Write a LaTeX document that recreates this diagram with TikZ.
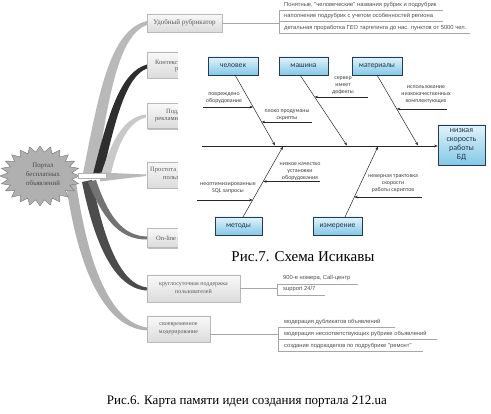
\documentclass[tikz,border=0pt]{standalone}
\usepackage{fontspec}
\setmainfont{Liberation Serif}
\newfontfamily\ishfont{Carlito}
\newfontfamily\itemfont{Liberation Sans}
\usetikzlibrary{calc,arrows.meta,shadows}
\definecolor{ishtop}{RGB}{225,243,251}
\definecolor{ishbot}{RGB}{130,200,230}
\definecolor{ishborder}{RGB}{35,60,85}
\definecolor{ishtext}{RGB}{35,55,80}
\begin{document}
\begin{tikzpicture}[x=1pt,y=-1pt,
  mmbox/.style={draw=gray!55, line width=0.4pt, top color=gray!5, bottom color=gray!28,
    drop shadow={shadow xshift=1pt,shadow yshift=-1.2pt,fill=black,opacity=0.25}, inner sep=0pt, align=center,
    font=\fontsize{6.5}{8}\selectfont, text=black!65},
  mmtext/.style={font=\fontsize{6.5}{8}\selectfont, text=black!65, inner sep=0pt, anchor=west},
  item/.style={font=\itemfont\fontsize{5.8}{6.5}\selectfont, text=black!70, anchor=west, inner sep=0pt},
  mmline/.style={draw=gray!70, line width=0.4pt},
  ishbox/.style={draw=ishborder, line width=0.6pt, top color=ishtop, bottom color=ishbot,
    font=\ishfont\fontsize{7.6}{8}\selectfont, text=ishtext, inner sep=0pt, align=center},
  cause/.style={font=\ishfont\fontsize{5.9}{7}\selectfont, text=black!75, align=center, inner sep=0pt},
  bone/.style={draw=black!85, line width=0.5pt, -{Stealth[length=3.5pt,width=2.6pt]}},
]
\useasboundingbox (0,0) rectangle (491,414);

% ---------- mind map branches ----------
\fill[gray!60] (76,182) .. controls (88,265) and (110,322) .. (147,327.5) -- (147,330.5) .. controls (104,328) and (78,268) .. (66,184) -- cycle;
\fill[black!70] (92,180) .. controls (104,240) and (120,284) .. (147,287.5) -- (147,290.5) .. controls (114,289) and (94,242) .. (82,182) -- cycle;
\fill[black!55] (96,180) .. controls (108,215) and (122,236) .. (147,236.5) -- (147,239.5) .. controls (118,240) and (102,216) .. (88,182) -- cycle;
\fill[gray!55] (82,178) .. controls (98,100) and (108,30) .. (147,21) -- (147,25) .. controls (118,35) and (108,100) .. (96,178) -- cycle;
\fill[black!82] (92,178) .. controls (108,115) and (120,72) .. (147,64.5) -- (147,68.5) .. controls (126,76) and (115,120) .. (102,178) -- cycle;
\fill[gray!42] (100,178) .. controls (110,145) and (122,117) .. (146,114.5) -- (146,117.5) .. controls (126,122) and (116,150) .. (110,178) -- cycle;
\fill[gray!55] (100,172.5) -- (146,174.5) -- (146,176) -- (100,181.5) -- cycle;

% ---------- central starburst ----------
\coordinate (sc) at (40,176);
\path[draw=black!55, fill=gray!62, line width=0.4pt] (80,176)
  \foreach \i in {1,...,47} { -- ({40+40*(1-0.2*mod(\i,2))*cos(\i*7.5)},{176+30*(1-0.2*mod(\i,2))*sin(\i*7.5)}) } -- cycle;
\node[font=\fontsize{6.8}{9}\selectfont, text=black!72, align=center, inner sep=0pt] (star) at (43,174) {Портал\\бесплатных\\объявлений};
\draw[gray!60, fill=white, line width=0.4pt] (78,173.5) rectangle (106,178);

% ---------- mind map boxes ----------
\node[mmbox, minimum width=75pt, minimum height=18pt, font=\fontsize{7}{8}\selectfont] (b1) at (184.5,23) {Удобный рубрикатор};
\node[mmbox, minimum width=90pt, minimum height=26pt] (b2) at (192,65) {};
\node[mmtext] (b2a) at (155,62) {Контекстная};
\node[mmtext] (b2b) at (175,69.5) {реклама};
\node[mmbox, minimum width=90pt, minimum height=25pt] (b3) at (192,116) {};
\node[mmtext] (b3a) at (166,112.5) {Поддержка};
\node[mmtext] (b3b) at (155,120) {рекламных};
\node[mmbox, minimum width=90pt, minimum height=26pt] (b4) at (192,175) {};
\node[mmtext] (b4a) at (150,170) {Простота для};
\node[mmtext] (b4b) at (163,178.5) {пользователя};
\node[mmbox, minimum width=90pt, minimum height=19pt] (b5) at (192,238) {};
\node[mmtext] (b5a) at (156,238.5) {On-line сервис};
\node[mmbox, minimum width=93pt, minimum height=27pt, font=\fontsize{6}{8}\selectfont] (b6) at (193.5,288.5) {круглосуточная поддержка\\пользователей};
\node[mmbox, minimum width=63pt, minimum height=26pt, font=\fontsize{6}{8}\selectfont] (b7) at (178.5,329) {своевременное\\модерирование};

% ---------- items of box 1 ----------
\coordinate (p1a) at (279,10.5);
\coordinate (p1b) at (279,21.5);
\coordinate (p1c) at (279,33);
\draw[mmline] (b1.east) -- (b1.east -| p1a);
\draw[mmline] (p1a) -- (p1c);
\draw[mmline] (p1a) -- ++(164,0);
\draw[mmline] (p1b) -- ++(164,0);
\draw[mmline] (p1c) -- ++(191,0);
\node[item] (i11) at (284,5) {Понятные, "человеческие" названия рубрик и подрубрик};
\node[item] (i12) at (284,16) {наполнение подрубрик с учетом особенностей региона};
\node[item] (i13) at (284,27.5) {детальная проработка ГЕО таргетинга до нас. пунктов от 5000 чел.};

% ---------- items of box 6 ----------
\coordinate (p6a) at (277,284);
\coordinate (p6b) at (277,295);
\draw[mmline] (b6.east) -- (b6.east -| p6a);
\draw[mmline] (p6a) -- (p6b);
\draw[mmline] (p6a) -- ++(81,0);
\draw[mmline] (p6b) -- ++(48,0);
\node[item] (i61) at (283,278) {900-е номера, Call-центр};
\node[item] (i62) at (283,289.5) {support 24/7};

% ---------- items of box 7 ----------
\coordinate (p7a) at (278,327.5);
\coordinate (p7b) at (278,339.5);
\coordinate (p7c) at (278,351);
\coordinate (p7l) at (b7.east |- 0,334);
\draw[mmline] (p7l) -- (p7l -| p7a);
\draw[mmline] (p7a) -- (p7c);
\draw[mmline] (p7a) -- ++(117,0);
\draw[mmline] (p7b) -- ++(159,0);
\draw[mmline] (p7c) -- ++(145,0);
\node[item] (i71) at (284,322) {модерация дубликатов объявлений};
\node[item] (i72) at (284,333.5) {модерация несоответствующих рубрике объявлений};
\node[item] (i73) at (284,346) {создание подразделов по подрубрике "ремонт"};

% ---------- Ishikawa diagram ----------
\fill[white] (178,40) rectangle (491,272);
\node[ishbox, minimum width=50pt, minimum height=18pt] (hum) at (233,66) {человек};
\node[ishbox, minimum width=49pt, minimum height=18pt] (mach) at (303.5,66) {машина};
\node[ishbox, minimum width=50pt, minimum height=18pt] (mat) at (377,66) {материалы};
\node[ishbox, minimum width=47pt, minimum height=18pt] (meth) at (238.5,226) {методы};
\node[ishbox, minimum width=49pt, minimum height=18pt] (meas) at (337.5,226) {измерение};
\node[ishbox, minimum width=47pt, minimum height=40pt, font=\ishfont\fontsize{8}{9}\selectfont] (eff) at (461.5,145) {низкая\\скорость\\работы\\БД};

\coordinate (sp0) at (202,146);
\draw[bone] (sp0) -- (sp0 -| eff.west);

\coordinate (hA) at (235,75);  \coordinate (hB) at (275,145.5);
\coordinate (mA) at (300,75);  \coordinate (mB) at (347,145.5);
\coordinate (tA) at (377,75);  \coordinate (tB) at (418,145.5);
\coordinate (eA) at (243,217); \coordinate (eB) at (283,146.5);
\coordinate (zA) at (345,217); \coordinate (zB) at (378,146.5);
\draw[bone] (hA) -- (hB);
\draw[bone] (mA) -- (mB);
\draw[bone] (tA) -- (tB);
\draw[bone] (eA) -- (eB);
\draw[bone] (zA) -- (zB);

\coordinate (c1) at (203,107);   \coordinate (c1e) at ($(hA)!0.4539!(hB)$);
\coordinate (c2) at (312,122);   \coordinate (c2e) at ($(hA)!0.6667!(hB)$);
\coordinate (c3) at (368,97);    \coordinate (c3e) at ($(mA)!0.312!(mB)$);
\coordinate (c4) at (447,109);   \coordinate (c4e) at ($(tA)!0.482!(tB)$);
\coordinate (c5) at (320,181.5); \coordinate (c5e) at ($(eA)!0.5035!(eB)$);
\coordinate (c6) at (197,200);   \coordinate (c6e) at ($(eA)!0.241!(eB)$);
\coordinate (c7) at (422,197);   \coordinate (c7e) at ($(zA)!0.284!(zB)$);
\draw[bone] (c1) -- (c1 -| c1e);
\draw[bone] (c2) -- (c2 -| c2e);
\draw[bone] (c3) -- (c3 -| c3e);
\draw[bone] (c4) -- (c4 -| c4e);
\draw[bone] (c5) -- (c5 -| c5e);
\draw[bone] (c6) -- (c6 -| c6e);
\draw[bone] (c7) -- (c7 -| c7e);

\node[cause] (k1) at (224,98) {повреждено\\оборудование};
\node[cause] (k2) at (287,115) {плохо продуманы\\скрипты};
\node[cause] (k3) at (343,86) {сервер\\имеет\\дефекты};
\node[cause] (k4) at (426,94.5) {использование\\низкокачественных\\комплектующих};
\node[cause] (k5) at (300,171.5) {низкое качество\\установки\\оборудования};
\node[cause] (k6) at (228,188.5) {неоптимизированные\\SQL запросы};
\node[cause] (k7) at (393,183.3) {неверная трактовка\\скорости\\работы скриптов};

% ---------- captions ----------
\node[font=\fontsize{15}{17}\selectfont, inner sep=0pt] (cap7) at (303,257) {Рис.7. Схема Исикавы};
\node[font=\fontsize{13}{15}\selectfont, inner sep=0pt, anchor=east] (cap6) at (387,402) {Рис.6. Карта памяти идеи создания портала 212.ua};
\end{tikzpicture}
\end{document}
